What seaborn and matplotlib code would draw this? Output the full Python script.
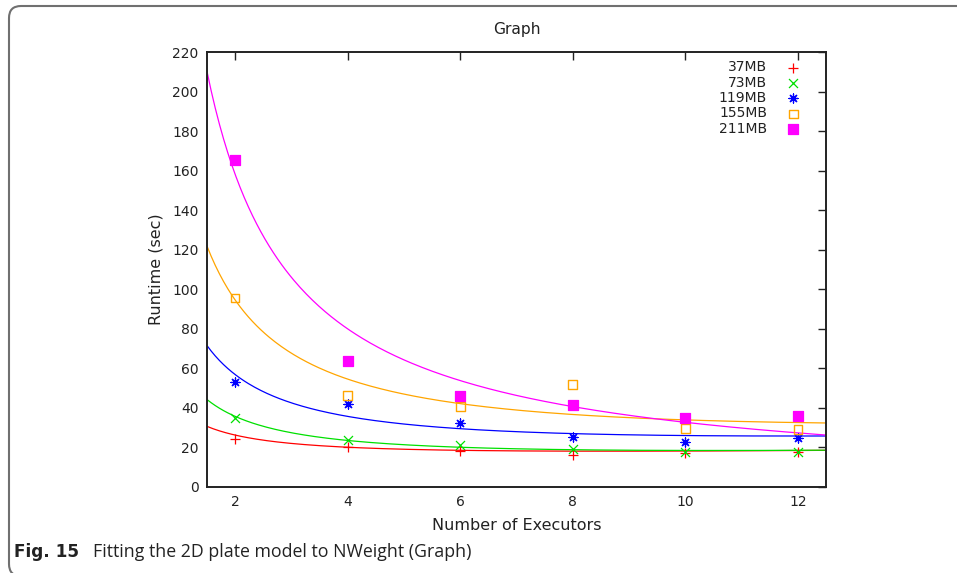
import numpy as np
import pandas as pd
import seaborn as sns
import matplotlib.pyplot as plt
from matplotlib.patches import FancyBboxPatch
from matplotlib.transforms import IdentityTransform

# measured runtimes (sec) per data size
executors = [2, 4, 6, 8, 10, 12]
sizes = ["37MB", "73MB", "119MB", "155MB", "211MB"]
rt_37 = [24.1, 20.4, 18.2, 16.0, 17.4, 17.9]
rt_73 = [34.7, 23.8, 21.2, 19.2, 17.6, 17.7]
rt_119 = [53.3, 41.8, 32.5, 25.4, 22.9, 24.6]
rt_155 = [95.6, 46.2, 40.6, 51.9, 29.5, 29.2]
rt_211 = [165.4, 63.7, 46.0, 41.5, 34.7, 35.9]

# model curve readings (x, y) taken off the fitted lines
fit_x_37 = [1.5, 4, 6, 8, 12.5]
fit_y_37 = [30.5, 21.2, 17.9, 17.4, 19.0]
fit_x_73 = [1.5, 2, 4, 6, 12.5]
fit_y_73 = [44.3, 35.5, 24.1, 19.6, 18.7]
fit_x_119 = [1.5, 2, 4, 6, 8, 12.5]
fit_y_119 = [72.0, 56.0, 36.4, 29.2, 27.0, 25.8]
fit_x_155 = [1.5, 2, 4, 6, 8, 12.5]
fit_y_155 = [120.4, 97.0, 54.0, 41.0, 37.3, 32.5]
fit_x_211 = [1.5, 2, 4.93, 7.06, 12.5]
fit_y_211 = [209.0, 160.0, 64.6, 45.5, 26.6]

runtimes = [rt_37, rt_73, rt_119, rt_155, rt_211]
fits = [(fit_x_37, fit_y_37), (fit_x_73, fit_y_73), (fit_x_119, fit_y_119),
        (fit_x_155, fit_y_155), (fit_x_211, fit_y_211)]
colors = ["#ff0000", "#00e000", "#0000ff", "#ffa500", "#ff00ff"]
markers = ["+", "x", (8, 2, 0), "s", "s"]

sns.set_style("white")
plt.rcParams["font.family"] = ["DejaVu Sans"]

fig = plt.figure(figsize=(9.57, 5.73), dpi=100)
ax = fig.add_axes([207 / 957, 1 - 487 / 573, 619 / 957, 435 / 573])

xs = np.linspace(1.5, 12.5, 300)
handles = []
for name, rt, (fx, fy), c, m in zip(sizes, runtimes, fits, colors, markers):
    # fit runtime = a/n + b + c*n to the curve readings
    fx = np.array(fx, dtype=float)
    A = np.column_stack([1 / fx, np.ones_like(fx), fx])
    coef, *_ = np.linalg.lstsq(A, np.array(fy), rcond=None)
    ys = coef[0] / xs + coef[1] + coef[2] * xs
    sns.lineplot(x=xs, y=ys, color=c, linewidth=0.9, ax=ax)

    df = pd.DataFrame({"n": executors, "t": rt})
    if name == "155MB":
        h = ax.scatter(df["n"], df["t"], marker="s", s=38, facecolors="none",
                       edgecolors=c, linewidths=1.0, zorder=3, label=name)
    else:
        h = ax.scatter(df["n"], df["t"], marker=m, s=42, color=c,
                       linewidths=0.9, zorder=3, label=name)
    handles.append(h)

ax.set_xlim(1.5, 12.5)
ax.set_ylim(0, 220)
ax.set_xticks(range(2, 13, 2))
ax.set_yticks(range(0, 221, 20))
ax.tick_params(direction="in", length=6, width=1.0, top=True, right=True,
               labelsize=10, colors="#222222", pad=6)
for s in ax.spines.values():
    s.set_visible(True)
    s.set_linewidth(1.4)
    s.set_color("#222222")

ax.set_xlabel("Number of Executors", fontsize=11.5, labelpad=6, color="#222222")
ax.set_ylabel("Runtime (sec)", fontsize=11.5, labelpad=6, color="#222222")
ax.set_title("Graph", fontsize=11.2, pad=13, color="#222222")

leg = ax.legend(handles=handles, loc="upper right", bbox_to_anchor=(0.963, 0.981),
                frameon=False, markerfirst=False, fontsize=10, labelspacing=0.1,
                handletextpad=1.2, handlelength=1.4, borderpad=0, borderaxespad=0)
for t in leg.get_texts():
    t.set_color("#222222")

# journal frame and caption
frame = FancyBboxPatch((9, -3), 1000, 570, boxstyle="round,pad=0,rounding_size=12",
                       transform=IdentityTransform(), fill=False,
                       edgecolor="#707070", linewidth=1.5, zorder=-1)
frame.set_transform(IdentityTransform())
fig.patches.append(frame)

cap1 = fig.text(14 / 957, 1 - 557 / 573, "Fig. 15", fontsize=12.2, fontweight="bold",
                family="DejaVu Sans", color="#222222", va="baseline")
fig.canvas.draw()
bb = cap1.get_window_extent()
fig.text((bb.x1 + 14) / 957, 1 - 557 / 573, "Fitting the 2D plate model to NWeight (Graph)",
         fontsize=12.8, family="Open Sans", color="#222222", va="baseline")

fig.savefig("out.png", dpi=100)
